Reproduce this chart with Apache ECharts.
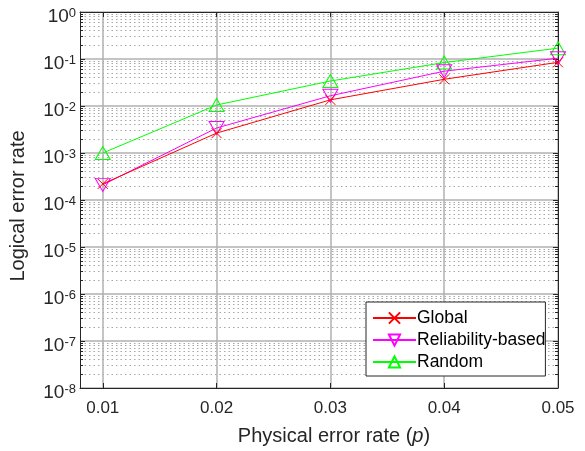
<!DOCTYPE html>
<html><head><meta charset="utf-8">
<script src="https://cdn.jsdelivr.net/npm/echarts@6/dist/echarts.min.js"></script>
<style>html,body{margin:0;padding:0;background:#fff}#c{width:585px;height:451px}</style>
</head><body><div id="c"></div>
<script>
// ---- data ----
const pValues = [0.01, 0.02, 0.03, 0.04, 0.05];
const globalRate = [2.2e-4, 2.65e-3, 1.35e-2, 3.7e-2, 8.5e-2];
const reliabilityRate = [2.1e-4, 3.4e-3, 1.65e-2, 5.5e-2, 1.04e-1];
const randomRate = [1.0e-3, 1.05e-2, 3.4e-2, 8.4e-2, 1.7e-1];
const seriesNames = ['Global', 'Reliability-based', 'Random'];
const xTicks = [0.01, 0.02, 0.03, 0.04, 0.05];
const yMajorTicks = [1e-8, 1e-7, 1e-6, 1e-5, 1e-4, 1e-3, 1e-2, 1e-1, 1];
const yMinorTicks = [];
for (let k = -8; k < 0; k++) for (let m = 2; m <= 9; m++) yMinorTicks.push(m * Math.pow(10, k));

const FONT = '"Liberation Sans", Arial, Helvetica, sans-serif';
const TXT = '#262626';
const GRID = { left: 76, right: 27, top: 12, bottom: 62 };

const chart = echarts.init(document.getElementById('c'), null, { renderer: 'canvas' });

const xBase = { type: 'value', min: 0.008, max: 0.05, gridIndex: 0 };
const yBase = { type: 'log', logBase: 10, min: 1e-8, max: 1 };

const option = {
  animation: false,
  backgroundColor: '#fff',
  textStyle: { fontFamily: FONT },
  grid: Object.assign({ show: false, containLabel: false }, GRID),
  xAxis: [
    Object.assign({}, xBase, {
      position: 'bottom',
      name: 'Physical error rate ({i|p})',
      nameLocation: 'middle',
      nameGap: 38,
      nameTextStyle: { fontFamily: FONT, fontSize: 20, color: TXT, padding: [0, 0, 0, 30],
        rich: { i: { fontFamily: FONT, fontSize: 20, fontStyle: 'italic', color: TXT } } },
      axisLine: { show: true, lineStyle: { color: TXT, width: 1 } },
      axisTick: { show: true, inside: true, length: 5, customValues: xTicks, lineStyle: { color: TXT } },
      axisLabel: { show: true, customValues: xTicks, margin: 12, fontSize: 17, color: TXT, fontFamily: FONT,
        formatter: v => v.toFixed(2) },
      splitLine: { show: true, lineStyle: { color: '#b0b0b0', width: 1.5 } }
    }),
    Object.assign({}, xBase, {
      position: 'top',
      axisLine: { show: true, lineStyle: { color: TXT, width: 1 } },
      axisTick: { show: true, inside: true, length: 5, customValues: xTicks, lineStyle: { color: TXT } },
      axisLabel: { show: false },
      splitLine: { show: false }
    })
  ],
  yAxis: [
    Object.assign({}, yBase, {
      position: 'left',
      name: 'Logical error rate',
      nameLocation: 'middle',
      nameGap: 52,
      nameTextStyle: { fontFamily: FONT, fontSize: 20, color: TXT, padding: [0, 12, 0, 0] },
      axisLine: { show: true, lineStyle: { color: TXT, width: 1 } },
      axisTick: { show: true, inside: true, length: 5, customValues: yMajorTicks, lineStyle: { color: TXT } },
      axisLabel: {
        show: true, customValues: yMajorTicks, margin: 4, padding: [9, 0, 0, 0],
        formatter: v => '{b|10}{e|' + Math.round(Math.log10(v)) + '}',
        rich: {
          b: { fontFamily: FONT, fontSize: 19, lineHeight: 19, color: TXT, verticalAlign: 'bottom' },
          e: { fontFamily: FONT, fontSize: 13, lineHeight: 13, color: TXT, verticalAlign: 'top', padding: [0, 0, 3, 0] }
        }
      },
      splitLine: { show: true, lineStyle: { color: '#b0b0b0', width: 1.5 } },
      minorTick: { show: false }
    }),
    Object.assign({}, yBase, {
      position: 'left',
      axisLine: { show: false },
      axisTick: { show: true, inside: true, length: 3, customValues: yMinorTicks, lineStyle: { color: TXT } },
      axisLabel: { show: false },
      splitLine: { show: true, lineStyle: { color: '#a8a8a8', width: 1, type: [1.5, 3] } }
    }),
    Object.assign({}, yBase, {
      position: 'right',
      axisLine: { show: true, lineStyle: { color: TXT, width: 1 } },
      axisTick: { show: true, inside: true, length: 5, customValues: yMajorTicks, lineStyle: { color: TXT } },
      axisLabel: { show: false },
      splitLine: { show: false }
    }),
    Object.assign({}, yBase, {
      position: 'right',
      axisLine: { show: false },
      axisTick: { show: true, inside: true, length: 3, customValues: yMinorTicks, lineStyle: { color: TXT } },
      axisLabel: { show: false },
      splitLine: { show: false }
    })
  ],
  legend: {
    orient: 'vertical',
    left: 366, top: 302,
    itemWidth: 43, itemHeight: 14, itemGap: 4,
    padding: [7, 0, 5, 6],
    backgroundColor: '#fff',
    borderColor: TXT, borderWidth: 1,
    textStyle: { fontFamily: FONT, fontSize: 17.5, color: '#000', padding: [0, 0, 0, -4] },
    data: seriesNames
  },
  series: [
    {
      name: seriesNames[0], type: 'line', xAxisIndex: 0, yAxisIndex: 0,
      data: pValues.map((p, i) => [p, globalRate[i]]),
      symbol: 'path://M0,0L10,10M10,0L0,10', symbolSize: 10,
      lineStyle: { color: '#ff0000', width: 1 },
      itemStyle: { color: 'rgba(0,0,0,0)', borderColor: '#ff0000', borderWidth: 1 },
      emphasis: { disabled: true }, z: 4
    },
    {
      name: seriesNames[1], type: 'line', xAxisIndex: 0, yAxisIndex: 0,
      data: pValues.map((p, i) => [p, reliabilityRate[i]]),
      symbol: 'triangle', symbolSize: [15, 13], symbolRotate: 180,
      lineStyle: { color: '#ff00ff', width: 1 },
      itemStyle: { color: 'rgba(0,0,0,0)', borderColor: '#ff00ff', borderWidth: 1 },
      emphasis: { disabled: true }, z: 3
    },
    {
      name: seriesNames[2], type: 'line', xAxisIndex: 0, yAxisIndex: 0,
      data: pValues.map((p, i) => [p, randomRate[i]]),
      symbol: 'triangle', symbolSize: [15, 13],
      lineStyle: { color: '#00ff00', width: 1 },
      itemStyle: { color: 'rgba(0,0,0,0)', borderColor: '#00ff00', borderWidth: 1 },
      emphasis: { disabled: true }, z: 2
    }
  ]
};
chart.setOption(option);
</script>
</body></html>
